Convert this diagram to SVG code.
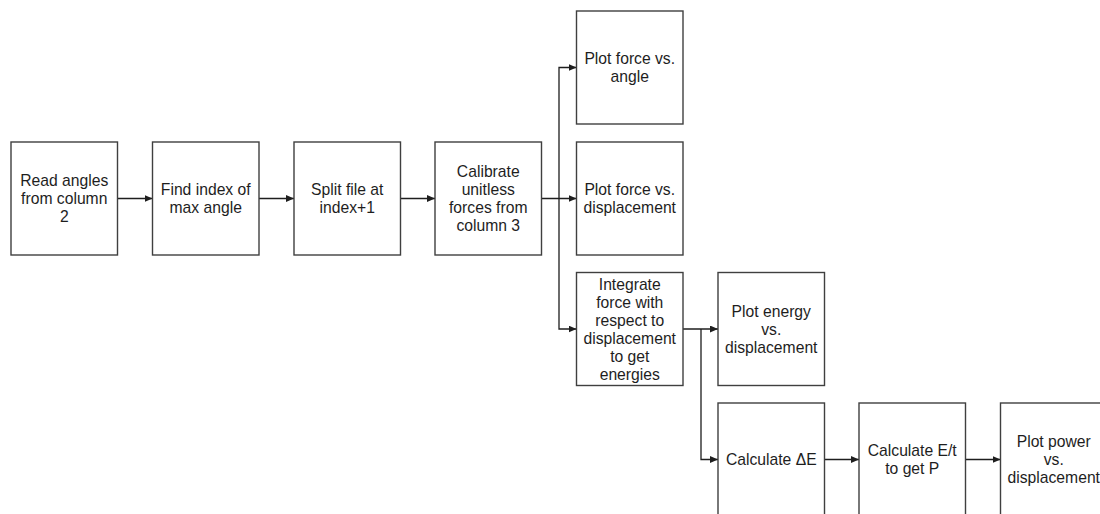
<svg xmlns="http://www.w3.org/2000/svg" width="1100" height="514" viewBox="0 0 1100 514">
<defs>
<style>
.box{fill:#ffffff;stroke:#3f3f3f;stroke-width:1.4}
.t{font-family:"Liberation Sans",Arial,Helvetica,sans-serif;font-size:15.7px;fill:#1e1e1e;text-anchor:middle}
.c{fill:none;stroke:#1e1e1e;stroke-width:1.3}
</style>
<marker id="ah" viewBox="0 0 8 7" refX="8" refY="3.5" markerWidth="8" markerHeight="7" orient="auto" markerUnits="userSpaceOnUse"><path d="M0,0 L8,3.5 L0,7 z" fill="#1e1e1e"/></marker>
</defs>
<rect width="1100" height="514" fill="#ffffff"/>
<g id="connectors">
<path class="c" d="M117.5 198.5 H152.5" marker-end="url(#ah)"/>
<path class="c" d="M259 198.5 H294" marker-end="url(#ah)"/>
<path class="c" d="M400.5 198.5 H435" marker-end="url(#ah)"/>
<path class="c" d="M541.5 198.5 H576.5" marker-end="url(#ah)"/>
<path class="c" d="M559 198.5 V67.5 H576.5" marker-end="url(#ah)"/>
<path class="c" d="M559 198.5 V329 H576.5" marker-end="url(#ah)"/>
<path class="c" d="M683 329 H718" marker-end="url(#ah)"/>
<path class="c" d="M701 329 V459.5 H718" marker-end="url(#ah)"/>
<path class="c" d="M824.5 459.5 H859" marker-end="url(#ah)"/>
<path class="c" d="M965.5 459.5 H1000.5" marker-end="url(#ah)"/>
</g>
<g id="n1"><rect class="box" x="11" y="142" width="106.5" height="113"/>
<text class="t" x="64.25" y="186">Read angles</text><text class="t" x="64.25" y="204">from column</text><text class="t" x="64.25" y="222">2</text></g>
<g id="n2"><rect class="box" x="152.5" y="142" width="106.5" height="113"/>
<text class="t" x="205.75" y="195">Find index of</text><text class="t" x="205.75" y="213">max angle</text></g>
<g id="n3"><rect class="box" x="294" y="142" width="106.5" height="113"/>
<text class="t" x="347.25" y="195">Split file at</text><text class="t" x="347.25" y="213">index+1</text></g>
<g id="n4"><rect class="box" x="435" y="142" width="106.5" height="113"/>
<text class="t" x="488.25" y="177">Calibrate</text><text class="t" x="488.25" y="195">unitless</text><text class="t" x="488.25" y="213">forces from</text><text class="t" x="488.25" y="231">column 3</text></g>
<g id="n5"><rect class="box" x="576.5" y="11" width="106.5" height="113"/>
<text class="t" x="629.75" y="64">Plot force vs.</text><text class="t" x="629.75" y="82">angle</text></g>
<g id="n6"><rect class="box" x="576.5" y="142" width="106.5" height="113"/>
<text class="t" x="629.75" y="195">Plot force vs.</text><text class="t" x="629.75" y="213">displacement</text></g>
<g id="n7"><rect class="box" x="576.5" y="272.5" width="106.5" height="113"/>
<text class="t" x="629.75" y="289.5">Integrate</text><text class="t" x="629.75" y="307.5">force with</text><text class="t" x="629.75" y="325.5">respect to</text><text class="t" x="629.75" y="343.5">displacement</text><text class="t" x="629.75" y="361.5">to get</text><text class="t" x="629.75" y="379.5">energies</text></g>
<g id="n8"><rect class="box" x="718" y="272.5" width="106.5" height="113"/>
<text class="t" x="771.25" y="316.5">Plot energy</text><text class="t" x="771.25" y="334.5">vs.</text><text class="t" x="771.25" y="352.5">displacement</text></g>
<g id="n9"><rect class="box" x="718" y="403" width="106.5" height="113"/>
<text class="t" x="771.25" y="465">Calculate ΔE</text></g>
<g id="n10"><rect class="box" x="859" y="403" width="106.5" height="113"/>
<text class="t" x="912.25" y="456">Calculate E/t</text><text class="t" x="912.25" y="474">to get P</text></g>
<g id="n11"><rect class="box" x="1000.5" y="403" width="106.5" height="113"/>
<text class="t" x="1053.75" y="447">Plot power</text><text class="t" x="1053.75" y="465">vs.</text><text class="t" x="1053.75" y="483">displacement</text></g>
</svg>
